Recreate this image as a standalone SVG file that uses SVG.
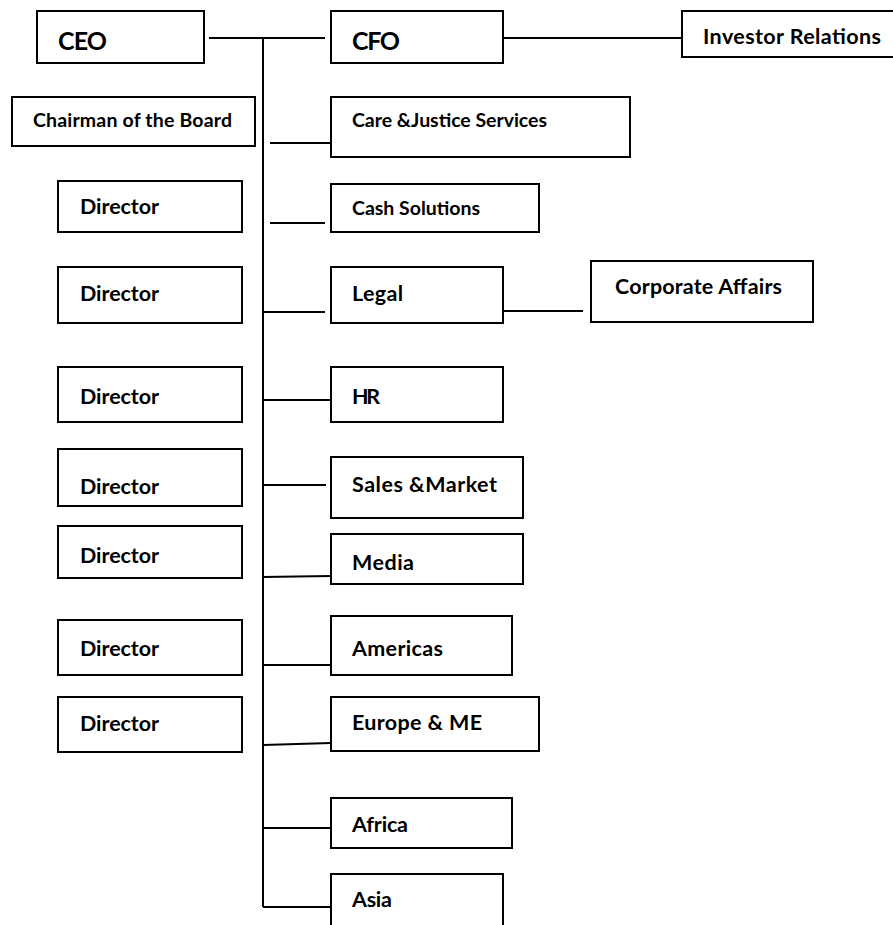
<svg xmlns="http://www.w3.org/2000/svg" width="893" height="925" viewBox="0 0 893 925">
<style>
  .box { fill: #ffffff; stroke: #000000; stroke-width: 2; }
  .ln { fill: none; stroke: #000000; stroke-width: 2; }
  text { font-family: Lato, "Open Sans", "Liberation Sans", sans-serif; font-weight: bold; fill: #000000; }
  .big { font-size: 25px; }
  .mid { font-size: 21.5px; }
  .sm { font-size: 19.5px; }
</style>
<rect width="893" height="925" fill="#ffffff"/>
<g id="connectors">
  <line class="ln" x1="209" y1="38" x2="325" y2="38"/>
  <line class="ln" x1="503" y1="38" x2="682" y2="38"/>
  <line class="ln" x1="263" y1="38" x2="263" y2="907"/>
  <line class="ln" x1="270" y1="143" x2="331" y2="143"/>
  <line class="ln" x1="270" y1="223" x2="325" y2="223"/>
  <line class="ln" x1="263" y1="312" x2="325" y2="312"/>
  <line class="ln" x1="503" y1="311" x2="583" y2="311"/>
  <line class="ln" x1="263" y1="400" x2="331" y2="400"/>
  <line class="ln" x1="263" y1="485" x2="326" y2="485"/>
  <line class="ln" x1="263" y1="577" x2="331" y2="576"/>
  <line class="ln" x1="263" y1="665" x2="331" y2="665"/>
  <line class="ln" x1="263" y1="745" x2="331" y2="743"/>
  <line class="ln" x1="263" y1="828" x2="331" y2="828"/>
  <line class="ln" x1="263" y1="907" x2="331" y2="907"/>
</g>
<g id="ceo"><rect class="box" x="37" y="11" width="167" height="52"/><text class="big" x="58" y="50" textLength="49">CEO</text></g>
<g id="cfo"><rect class="box" x="331" y="11" width="172" height="52"/><text class="big" x="352" y="50" textLength="48">CFO</text></g>
<g id="investor-relations"><path class="box" d="M900,11 H682 V57 H900"/><text class="mid" x="703" y="44" textLength="178">Investor Relations</text></g>
<g id="chairman"><rect class="box" x="12" y="97" width="243" height="49"/><text class="sm" x="33" y="127" textLength="199">Chairman of the Board</text></g>
<g id="care-justice"><rect class="box" x="331" y="97" width="299" height="60"/><text class="sm" x="352" y="127" textLength="195">Care &amp;Justice Services</text></g>
<g id="director1"><rect class="box" x="58" y="181" width="184" height="51"/><text class="mid" x="80" y="214" textLength="79">Director</text></g>
<g id="cash-solutions"><rect class="box" x="331" y="184" width="208" height="48"/><text class="sm" x="352" y="215" textLength="128">Cash Solutions</text></g>
<g id="director2"><rect class="box" x="58" y="267" width="184" height="56"/><text class="mid" x="80" y="301" textLength="79">Director</text></g>
<g id="legal"><rect class="box" x="331" y="267" width="172" height="56"/><text class="mid" x="352" y="301" textLength="51">Legal</text></g>
<g id="corporate-affairs"><rect class="box" x="591" y="261" width="222" height="61"/><text class="mid" x="615" y="294" textLength="167">Corporate Affairs</text></g>
<g id="director3"><rect class="box" x="58" y="367" width="184" height="55"/><text class="mid" x="80" y="404" textLength="79">Director</text></g>
<g id="hr"><rect class="box" x="331" y="367" width="172" height="55"/><text class="mid" x="352" y="404" textLength="28">HR</text></g>
<g id="director4"><rect class="box" x="58" y="449" width="184" height="57"/><text class="mid" x="80" y="494" textLength="79">Director</text></g>
<g id="sales-market"><rect class="box" x="331" y="457" width="192" height="61"/><text class="mid" x="352" y="492" textLength="145">Sales &amp;Market</text></g>
<g id="director5"><rect class="box" x="58" y="526" width="184" height="52"/><text class="mid" x="80" y="563" textLength="79">Director</text></g>
<g id="media"><rect class="box" x="331" y="534" width="192" height="50"/><text class="mid" x="352" y="570" textLength="62">Media</text></g>
<g id="director6"><rect class="box" x="58" y="620" width="184" height="55"/><text class="mid" x="80" y="656" textLength="79">Director</text></g>
<g id="americas"><rect class="box" x="331" y="616" width="181" height="59"/><text class="mid" x="352" y="656" textLength="91">Americas</text></g>
<g id="director7"><rect class="box" x="58" y="697" width="184" height="55"/><text class="mid" x="80" y="731" textLength="79">Director</text></g>
<g id="europe-me"><rect class="box" x="331" y="697" width="208" height="54"/><text class="mid" x="352" y="730" textLength="130">Europe &amp; ME</text></g>
<g id="africa"><rect class="box" x="331" y="798" width="181" height="50"/><text class="mid" x="352" y="832" textLength="56">Africa</text></g>
<g id="asia"><path class="box" d="M331,930 V874 H503 V930"/><text class="mid" x="352" y="907" textLength="40">Asia</text></g>
</svg>
